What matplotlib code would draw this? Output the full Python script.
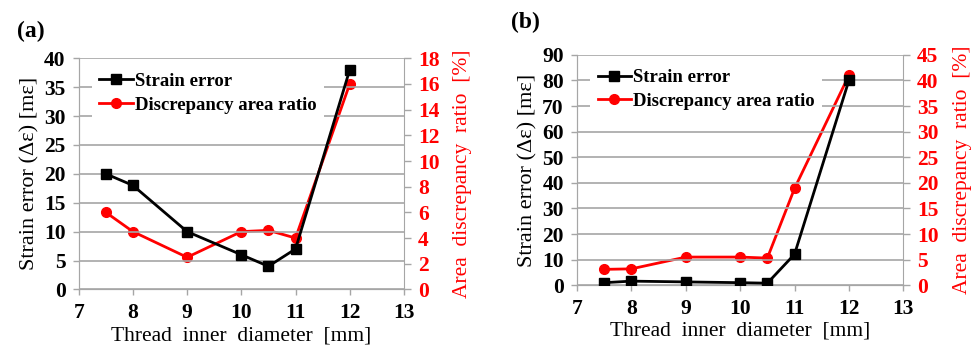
import matplotlib
matplotlib.use("Agg")
import matplotlib.pyplot as plt
import numpy as np

plt.rcParams['font.family'] = ['Liberation Serif', 'DejaVu Serif']

# thread inner diameter [mm]
diam = [7.5, 8, 9, 10, 10.5, 11, 12]

# panel (a)
strain_a = [20, 18, 10, 6, 4, 7, 38]
area_a = [6.0, 4.5, 2.5, 4.5, 4.6, 4.0, 16.0]

# panel (b)
strain_b = [1.0, 1.6, 1.3, 1.0, 0.8, 12.1, 80]
area_b = [3.1, 3.2, 5.5, 5.5, 5.3, 18.9, 41.0]

GRID = '#a6a6a6'
RED = '#ff0000'
TICK = 15.5


def panel(fig, rect, x, strain, area, ymax, ystep, rmax, rstep, tag, tagpos):
    ax = fig.add_axes(rect)
    ax2 = ax.twinx()
    ax.set_zorder(ax2.get_zorder() + 1)
    ax.patch.set_visible(False)

    ax.plot(x, strain, color='black', marker='s', markersize=7, lw=2,
            label='Strain error', zorder=4)
    ax2.plot(x, area, color=RED, marker='o', markersize=7, lw=2)
    ax.plot([], [], color=RED, marker='o', markersize=7, lw=2,
            label='Discrepancy area ratio')

    xt = np.arange(7, 14)
    yt = np.arange(0, ymax + 1, ystep)
    rt = np.arange(0, rmax + 1, rstep)
    ax.set_xticks(xt)
    ax.set_xticklabels([str(v) for v in xt], fontweight='bold', fontsize=TICK)
    ax.set_yticks(yt)
    ax.set_yticklabels([str(v) for v in yt], fontweight='bold', fontsize=TICK)
    ax2.set_yticks(rt)
    ax2.set_yticklabels([str(v) for v in rt], fontweight='bold', fontsize=TICK)
    ax.set_xlim(7, 13)
    ax.set_ylim(0, ymax)
    ax2.set_ylim(0, rmax)

    ax.yaxis.grid(True, color=GRID, lw=1.2)
    ax.set_axisbelow(True)
    for a in (ax, ax2):
        for s in a.spines.values():
            s.set_color(GRID)
        a.spines['top'].set_visible(False)
    ax.spines['right'].set_visible(False)

    ax.tick_params(axis='y', colors=GRID, labelcolor='black',
                   length=4.5, width=1, pad=5)
    ax.tick_params(axis='x', colors=GRID, labelcolor='black',
                   length=4, width=1, pad=6)
    ax2.tick_params(axis='y', colors=GRID, labelcolor=RED,
                    length=5, width=1, pad=5)

    ax.set_xlabel('Thread  inner  diameter  [mm]', fontsize=15.5, labelpad=2)
    ax.set_ylabel('Strain error (Δε) [mε]', fontsize=16, labelpad=3)
    ax2.set_ylabel('Area  discrepancy  ratio  [%]', fontsize=15.5, color=RED,
                   labelpad=10)

    leg = ax.legend(loc='upper left', bbox_to_anchor=(0.04, 0.97),
                    prop={'weight': 'bold', 'size': 13.5}, frameon=True,
                    handlelength=1.8, handletextpad=0.1, labelspacing=0.35,
                    borderaxespad=0, fancybox=False)
    leg.get_frame().set_facecolor('white')
    leg.get_frame().set_edgecolor('none')
    leg.get_frame().set_alpha(1)

    fig.text(tagpos[0], tagpos[1], tag, fontsize=17, fontweight='bold',
             ha='left', va='center')
    return ax


fig = plt.figure(figsize=(9.78, 3.47), dpi=100)
panel(fig, [0.0805, 0.166, 0.3325, 0.666], diam, strain_a, area_a,
      40, 5, 18, 2, '(a)', (0.017, 0.91))
panel(fig, [0.590, 0.178, 0.3336, 0.664], diam, strain_b, area_b,
      90, 10, 45, 5, '(b)', (0.523, 0.935))

fig.savefig('out.png', dpi=100)
